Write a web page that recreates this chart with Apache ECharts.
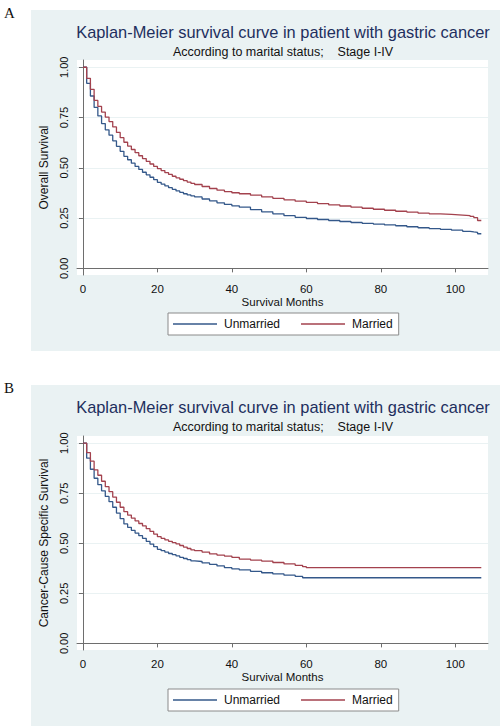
<!DOCTYPE html>
<html>
<head>
<meta charset="utf-8">
<script src="https://cdn.jsdelivr.net/npm/echarts@6/dist/echarts.min.js"></script>
<style>
html,body{margin:0;padding:0;background:#fff;}
#c{width:500px;height:728px;}
</style>
</head>
<body>
<div id="c"></div>
<script>
// ---------- data ----------
var titleText = 'Kaplan-Meier survival curve in patient with gastric cancer';
var subtitleText = 'According to marital status;    Stage I-IV';
var seriesNames = ['Unmarried', 'Married'];
var xTicks = [0, 20, 40, 60, 80, 100];
var yTicks = [0, 0.25, 0.5, 0.75, 1];

// Panel A: overall survival
var monthsOS = [0,1,2,3,4,5,6,7,8,9,10,11,12,13,14,15,16,17,18,19,20,21,22,23,24,25,26,27,28,29,30,
  32,34,36,38,40,42,45,48,51,54,57,60,63,66,69,72,75,78,81,84,87,90,93,96,99,102,104,105,106,107];
var unmarriedOS = [1,0.92,0.857,0.8,0.758,0.72,0.689,0.662,0.634,0.607,0.582,0.557,0.54,0.523,0.507,0.492,
  0.478,0.465,0.453,0.441,0.428,0.419,0.41,0.401,0.393,0.385,0.378,0.371,0.365,0.36,0.355,
  0.345,0.336,0.326,0.318,0.311,0.304,0.292,0.281,0.271,0.262,0.254,0.248,0.243,0.238,0.233,0.228,
  0.224,0.22,0.216,0.212,0.207,0.202,0.198,0.194,0.19,0.184,0.181,0.179,0.172,0.172];
var marriedOS = [1,0.945,0.89,0.835,0.805,0.777,0.752,0.73,0.703,0.676,0.65,0.627,0.608,0.591,0.575,0.56,
  0.546,0.532,0.519,0.507,0.496,0.486,0.476,0.467,0.458,0.45,0.443,0.436,0.429,0.423,0.417,
  0.407,0.397,0.389,0.382,0.376,0.371,0.364,0.355,0.348,0.341,0.334,0.328,0.322,0.316,0.31,0.304,
  0.299,0.294,0.289,0.284,0.28,0.275,0.271,0.268,0.265,0.262,0.258,0.252,0.238,0.238];

// Panel B: cancer-cause specific survival
var monthsCSS = [0,1,2,3,4,5,6,7,8,9,10,11,12,13,14,15,16,17,18,19,20,21,22,23,24,25,26,27,28,29,30,
  32,34,36,38,40,42,45,48,51,54,57,59,60,107];
var unmarriedCSS = [1,0.925,0.87,0.825,0.793,0.762,0.734,0.708,0.68,0.651,0.623,0.597,0.58,0.565,0.551,0.538,
  0.525,0.51,0.496,0.483,0.47,0.463,0.456,0.449,0.443,0.437,0.43,0.424,0.418,0.412,0.409,
  0.402,0.395,0.387,0.378,0.372,0.367,0.36,0.353,0.347,0.341,0.335,0.328,0.328,0.328];
var marriedCSS = [1,0.953,0.91,0.867,0.84,0.81,0.783,0.758,0.731,0.705,0.68,0.658,0.641,0.626,0.612,0.599,
  0.587,0.573,0.56,0.546,0.533,0.525,0.517,0.51,0.503,0.497,0.489,0.481,0.474,0.467,0.463,
  0.456,0.447,0.441,0.436,0.43,0.421,0.416,0.411,0.404,0.397,0.39,0.383,0.378,0.378];

// ---------- build ----------
function zip(t, v) { return t.map(function (x, i) { return [x, v[i]]; }); }
var FONT = '"Liberation Sans", Arial, sans-serif';
var BLUE = '#34588a', RED = '#a3424e';
var BG = '#eaf2f3', AXIS = '#6e6e6e';

var panels = [
  {letter: 'A', top: 10, yName: 'Overall Survival', grid: {top: 60, bottom: 453}, legendTop: 313,
   t: monthsOS, u: unmarriedOS, m: marriedOS},
  {letter: 'B', top: 385, yName: 'Cancer-Cause Specific Survival', grid: {top: 436, bottom: 78}, legendTop: 689,
   t: monthsCSS, u: unmarriedCSS, m: marriedCSS}
];

var grids = [], xAxes = [], yAxes = [], series = [], legends = [], graphics = [];
panels.forEach(function (p, i) {
  graphics.push({type: 'rect', z: -10, shape: {x: 31, y: p.top, width: 469, height: 341}, style: {fill: BG}});
  graphics.push({type: 'text', x: 4, y: p.top - 5, style: {text: p.letter, fontFamily: '"Liberation Serif", "Times New Roman", serif', fontSize: 15, fill: '#111'}});
  graphics.push({type: 'text', x: 283, y: p.top + 14, style: {text: titleText, fontFamily: FONT, fontSize: 16.4, fill: '#1e2f5e', textAlign: 'center'}});
  graphics.push({type: 'text', x: 283, y: p.top + 35, style: {text: subtitleText, fontFamily: FONT, fontSize: 12.5, fill: '#111', textAlign: 'center'}});

  grids.push({left: 77, right: 12, top: p.grid.top, bottom: p.grid.bottom, show: true, backgroundColor: '#fff', borderWidth: 0, containLabel: false});
  xAxes.push({
    type: 'value', gridIndex: i, min: -1.6, max: 108.8,
    name: 'Survival Months', nameLocation: 'middle', nameGap: 19,
    nameTextStyle: {fontFamily: FONT, fontSize: 11.5, color: '#111'},
    axisLine: {show: true, lineStyle: {color: AXIS, width: 1}},
    axisTick: {show: true, length: 4, customValues: xTicks, lineStyle: {color: AXIS}},
    axisLabel: {customValues: xTicks, margin: 8, fontFamily: FONT, fontSize: 11.5, color: '#111'},
    splitLine: {show: false}
  });
  yAxes.push({
    type: 'value', gridIndex: i, min: -0.033, max: 1.036,
    name: p.yName, nameLocation: 'middle', nameGap: 24, nameRotate: 90,
    nameTextStyle: {fontFamily: FONT, fontSize: 12, color: '#111'},
    axisLine: {show: true, lineStyle: {color: AXIS, width: 1}},
    axisTick: {show: true, length: 4, customValues: yTicks, lineStyle: {color: AXIS}},
    axisLabel: {customValues: yTicks, rotate: 90, margin: 8, fontFamily: FONT, fontSize: 11, color: '#111',
      formatter: function (v) { return v.toFixed(2); }},
    splitLine: {show: true, lineStyle: {color: BG, width: 1}}
  });
  [[p.u, BLUE, 0], [p.m, RED, 1]].forEach(function (s) {
    series.push({
      name: seriesNames[s[2]], type: 'line', xAxisIndex: i, yAxisIndex: i, step: 'end',
      data: zip(p.t, s[0]), symbol: 'none', lineStyle: {color: s[1], width: 1.3}, itemStyle: {color: s[1]},
      animation: false, z: 3
    });
  });
  legends.push({
    left: 168, top: p.legendTop, orient: 'horizontal', data: seriesNames,
    icon: 'rect', itemWidth: 44, itemHeight: 1.3, itemGap: 21,
    backgroundColor: '#fff', borderColor: '#8a8a8a', borderWidth: 1, borderRadius: 0,
    padding: [5, 6, 5, 5],
    textStyle: {fontFamily: FONT, fontSize: 12, color: '#111', padding: [0, 0, 0, 2]}
  });
});

var chart = echarts.init(document.getElementById('c'), null, {renderer: 'svg'});
chart.setOption({
  backgroundColor: '#fff',
  animation: false,
  graphic: graphics,
  grid: grids, xAxis: xAxes, yAxis: yAxes, series: series, legend: legends
});
</script>
</body>
</html>
